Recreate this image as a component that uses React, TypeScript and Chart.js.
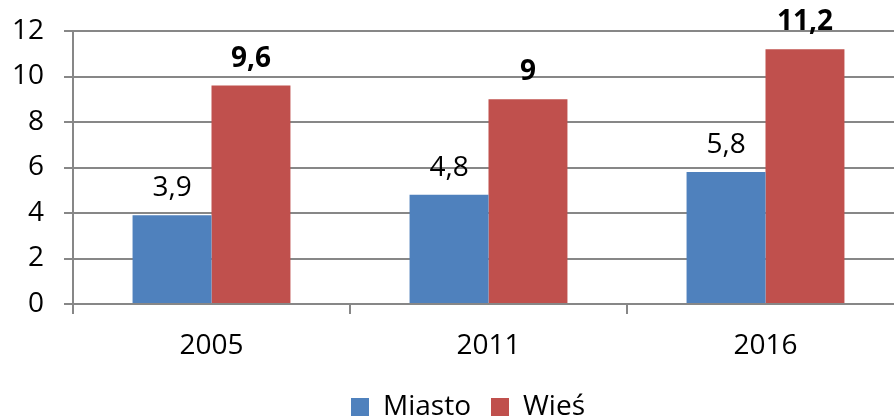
import React, { useEffect, useRef } from 'react';
import { Chart, registerables } from 'chart.js';

Chart.register(...registerables);

const categories = ['2005', '2011', '2016'];
const seriesNames = ['Miasto', 'Wieś'];
const miasto = [3.9, 4.8, 5.8];
const wies = [9.6, 9, 11.2];
const yMin = 0;
const yMax = 12;
const yStep = 2;

const FONT = "'Open Sans', sans-serif";
const FS = 28;
const GRID = '#878787';

const labelPlugin = {
  id: 'barLabels',
  afterLayout(chart: any) {
    const lg = chart.legend;
    if (lg) {
      lg.left += 16;
      lg.right += 16;
    }
  },
  afterDatasetsDraw(chart: any) {
    const ctx = chart.ctx;
    chart.data.datasets.forEach((ds: any, di: number) => {
      const meta = chart.getDatasetMeta(di);
      meta.data.forEach((el: any, i: number) => {
        const v = ds.data[i];
        ctx.save();
        ctx.font = `${di === 1 ? 'bold ' : ''}${FS}px ${FONT}`;
        ctx.fillStyle = '#000';
        ctx.textAlign = 'center';
        ctx.textBaseline = 'alphabetic';
        ctx.fillText(String(v).replace('.', ','), el.x, el.y - 19);
        ctx.restore();
      });
    });
  },
};

export default function App() {
  const ref = useRef<HTMLCanvasElement>(null);
  useEffect(() => {
    document.body.style.margin = '0';
    const chart = new Chart(ref.current!, {
      type: 'bar',
      data: {
        labels: categories,
        datasets: [
          { label: seriesNames[0], data: miasto, backgroundColor: '#4F81BD', categoryPercentage: 0.57, barPercentage: 1 },
          { label: seriesNames[1], data: wies, backgroundColor: '#C0504D', categoryPercentage: 0.57, barPercentage: 1 },
        ],
      },
      options: {
        animation: false,
        responsive: false,
        maintainAspectRatio: false,
        layout: { padding: { top: 31, right: 0, left: 0, bottom: 0 } },
        plugins: {
          legend: {
            position: 'bottom',
            labels: {
              font: { family: FONT, size: FS },
              color: '#000',
              boxWidth: 18,
              boxHeight: 18,
              padding: 20,
            },
          },
          tooltip: { enabled: false },
        },
        scales: {
          x: {
            grid: { display: true, drawOnChartArea: false, drawTicks: true, tickLength: 10, color: GRID, lineWidth: 2, offset: true },
            border: { display: true, color: GRID, width: 2 },
            ticks: { font: { family: FONT, size: FS }, color: '#000', padding: 15 },
            afterFit: (s: any) => { s.height = 69; s.paddingLeft = 0; s.paddingRight = 0; },
          },
          y: {
            min: yMin,
            max: yMax,
            ticks: { stepSize: yStep, font: { family: FONT, size: FS }, color: '#000', padding: 20 },
            grid: { color: GRID, lineWidth: 2, tickLength: 9 },
            border: { display: true, color: GRID, width: 2 },
            afterFit: (s: any) => { s.width = 73; s.paddingTop = 0; s.paddingBottom = 0; },
          },
        },
      },
      plugins: [labelPlugin],
    });
    return () => chart.destroy();
  }, []);
  return (
    <div style={{ width: 894, height: 419, overflow: 'hidden', position: 'relative', background: '#fff' }}>
      <canvas ref={ref} width={904} height={431} style={{ display: 'block', width: 904, height: 431 }} />
    </div>
  );
}
